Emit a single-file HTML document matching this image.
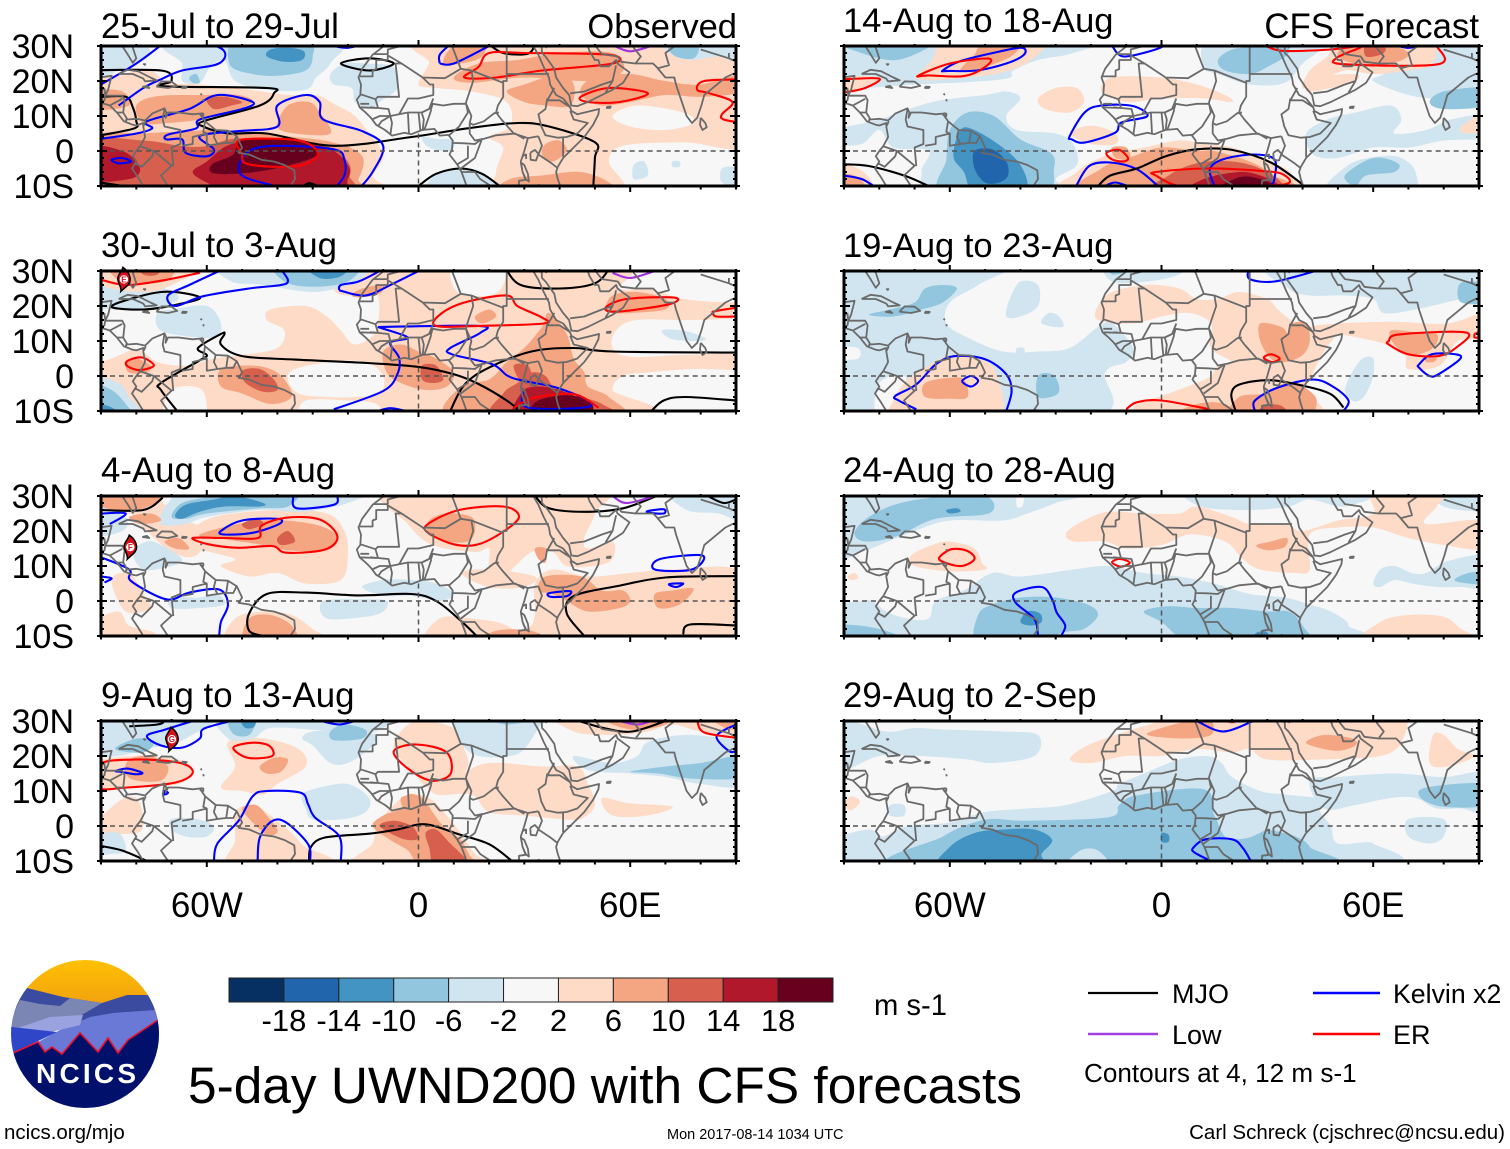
<!DOCTYPE html>
<html lang="en">
<head>
<meta charset="utf-8">
<title>5-day UWND200 with CFS forecasts</title>
<style>
html,body{margin:0;padding:0;background:#fff}
svg{display:block}
text{font-family:"Liberation Sans",Arial,sans-serif;fill:#000}
</style>
</head>
<body>
<svg id="chart" xmlns="http://www.w3.org/2000/svg" width="1510" height="1149" viewBox="0 0 1510 1149">
  <rect x="0" y="0" width="1510" height="1149" fill="#fff"/>
  <g id="panels"></g>

  <text x="101" y="38" font-size="34.8">25-Jul to 29-Jul</text>
  <text x="737" y="38" font-size="34.5" text-anchor="end">Observed</text>
  <text x="101" y="257" font-size="34.8">30-Jul to 3-Aug</text>
  <text x="101" y="482" font-size="34.8">4-Aug to 8-Aug</text>
  <text x="101" y="707" font-size="34.8">9-Aug to 13-Aug</text>
  <text x="843" y="32" font-size="34.5">14-Aug to 18-Aug</text>
  <text x="1479" y="38" font-size="34.8" text-anchor="end">CFS Forecast</text>
  <text x="843" y="257" font-size="34.5">19-Aug to 23-Aug</text>
  <text x="843" y="482" font-size="34.8">24-Aug to 28-Aug</text>
  <text x="843" y="707" font-size="34.8">29-Aug to 2-Sep</text>

  <g id="colorbar"></g>
  <text x="874" y="1015" font-size="29.2">m s-1</text>
  <text x="188" y="1103" font-size="51.4">5-day UWND200 with CFS forecasts</text>

  <g>
    <line x1="1088" y1="993" x2="1158" y2="993" stroke="#000" stroke-width="2.2"/>
    <text x="1172" y="1003" font-size="27">MJO</text>
    <line x1="1088" y1="1034" x2="1158" y2="1034" stroke="#a040e0" stroke-width="2.4"/>
    <text x="1172" y="1044" font-size="27">Low</text>
    <line x1="1313" y1="993" x2="1380" y2="993" stroke="#0000ff" stroke-width="2.4"/>
    <text x="1393" y="1003" font-size="26.7">Kelvin x2</text>
    <line x1="1313" y1="1034" x2="1380" y2="1034" stroke="#ff0000" stroke-width="2.4"/>
    <text x="1393" y="1044" font-size="27">ER</text>
    <text x="1084" y="1082" font-size="26.1">Contours at 4, 12 m s-1</text>
  </g>

  <g>
    <defs>
      <clipPath id="logoClip"><ellipse cx="85" cy="1034" rx="74" ry="74"/></clipPath>
      <linearGradient id="skyGrad" x1="0" y1="0" x2="0" y2="1"><stop offset="0" stop-color="#ffc400"/><stop offset="1" stop-color="#f2a010"/></linearGradient>
    </defs>
    <g clip-path="url(#logoClip)">
      <rect x="5" y="955" width="160" height="52" fill="url(#skyGrad)"/>
      <polygon points="5,1010 27,988 43,992 63,997 102,1003 127,995 148,995 165,1020 85,1030" fill="#3a4ba0"/>
      <polygon points="5,1030 20,1000 40,1004 60,1006 70,998 102,1003 80,1016 45,1030" fill="#7b86b4"/>
      <polygon points="5,1060 60,1030 90,1017 113,1013 155,1010 165,1020 165,1060" fill="#6a78d6"/>
      <polygon points="18,1028 50,1017 83,1015 80,1025 47,1033" fill="#9aa3e0"/>
      <polygon points="5,1026 12,1027 57,1032 15,1052 5,1055" fill="#3046c8"/>
      <polygon points="5,1056 13,1053 38,1042 45,1052 52,1047 62,1054 80,1033 98,1052 108,1038 118,1053 128,1040 158,1020 165,1016 165,1115 5,1115" fill="#00106b"/>
      <polyline points="5,1056 13,1053 38,1042 45,1052 52,1047 62,1054 80,1033 98,1052 108,1038 118,1053 128,1040 158,1020 165,1016" fill="none" stroke="#e8102a" stroke-width="1.6"/>
    </g>
    <text x="36" y="1083" font-size="28" font-weight="bold" style="fill:#fff" textLength="100" lengthAdjust="spacing">NCICS</text>
  </g>

  <text x="4" y="1139" font-size="20.5">ncics.org/mjo</text>
  <text x="667" y="1139" font-size="14.5">Mon 2017-08-14 1034 UTC</text>
  <text x="1505" y="1139" font-size="20.5" text-anchor="end">Carl Schreck (cjschrec@ncsu.edu)</text>
</svg>

<script>
/* ---------- axis and colour data ---------- */
const lonTicks = [-60, 0, 60];
const lonTickLabels = ['60W', '0', '60E'];
const latTicks = [30, 20, 10, 0, -10];
const latTickLabels = ['30N', '20N', '10N', '0', '10S'];
const colorBounds = [-18, -14, -10, -6, -2, 2, 6, 10, 14, 18];
const colorBarLabels = ['-18', '-14', '-10', '-6', '-2', '2', '6', '10', '14', '18'];
const palette = ['#053061', '#2166ac', '#4393c3', '#92c5de', '#d1e5f0', '#f7f7f7', '#fddbc7', '#f4a582', '#d6604d', '#b2182b', '#67001f'];

/* storm markers: panel index, lon, lat, letter */
const storms = [[1, -83.5, 27.6, 'E'], [2, -81.7, 15.4, 'F'], [3, -69.9, 24.8, 'G']];

/* ---------- filled anomaly regions: [m/s value, [lon,lat,...]] ---------- */
const p1Fills = [
 [4,[-95,18,-84,22,-76,23,-71,19.5,-62,19,-48,17.5,-37,16,-29,16,-24,13.5,-18,10,-14,5,-11,1,-10,-2,-13,-7,-16,-12,-95,-12]],
 [4,[0,19,3,25,5,32,96,32,96,2.5,75,2.5,58,1.5,54,-3,57,-12,24,-12,22,-6,24,1,20,4,26,7,25,14,15,17,5,18]],
 [0,[55,10,62,13,75,11,78,8,70,6,60,7]],
 [-4,[-95,32,-80,32,-76,28,-80,25,-85,23,-90,21,-95,22]],
 [-4,[-70,31,-67,25,-67,20,-62,19.5,-59,24,-55,26,-52,20,-43,17.5,-32,17.5,-29,21,-25,25,-24,32]],
 [-8,[-54,29,-53,24,-47,22,-40,21.5,-32,23,-30,27,-32,31,-53,31]],
 [-8,[-65,21,-63,22,-62,19.5,-64,19.5]],
 [-12,[-43,27,-38,25.5,-33,26,-32.5,28.5,-37,29.5,-42,29]],
 [-4,[-25,22,-21,25,-15,25,-7,24,-6,18,-11,14,-14,12,-18,14,-19,18,-24,19]],
 [-4,[70,32,71,28,77,26,85,27,92,25,92,32]],
 [-8,[71,30,73,27,78,26.5,79,30]],
 [-4,[3,-11,6,-6,12,-5,18,-6,21,-11]],
 [-4,[1,4,5,3.5,10,3,9,0,3,1]],
 [-4,[61,-4,64,-3,65,-7,61,-8]],
 [-4,[72,-3,74,-3,74,-4.5,72,-4.5]],
 [-4,[86,-5,90,-5,91,-10,86,-9]],
 [8,[-92,3.8,-78,5,-65,5.7,-55,6,-38,4.3,-24,2.4,-16,-1.4,-17,-8,-21,-12,-92,-12]],
 [8,[-80,13,-74,15.7,-60,16,-51,16,-47,14,-54,11,-62,9,-71,8,-78,8]],
 [8,[-91,17,-84,17,-82,13,-91,12]],
 [8,[-37,13,-31,14,-28,11,-25,5,-35,5,-40,7]],
 [8,[7,25,10,30,19,32,18,27,12,25]],
 [8,[10,21,17,25,28,26,40,28,55,28,58,23,50,20,30,21,15,19.5]],
 [8,[25,17,30,19,40,22,44,19,43,13,36,13,30,14]],
 [8,[46,18,50,21,60,22,70,20,80,19,92,22,92,17,80,15.5,70,16,60,14,52,13,47,15]],
 [8,[24,-12,26,-8,35,-7,46,-6,54,-9,54,-12]],
 [8,[36,2,40,3,42,0,38,-3,35,-1]],
 [12,[-60,15,-55,15.5,-50,14,-53,13,-58,12]],
 [12,[-92,2.4,-78,3,-67,1.4,-60,1.4,-52,3.5,-38,3,-25,1,-20,-3,-19.5,-7,-23,-12,-78,-12,-76,-9,-70,-7,-74,-10,-92,-12]],
 [16,[-92,1,-84,0,-80,-3,-79,-6,-82,-8,-92,-8]],
 [16,[-64,-6,-60,-3,-53,2,-40,3,-26,1,-20,-4,-20,-8,-24,-12,-52,-12,-60,-9]],
 [20,[-58.5,-3.8,-52.5,-1,-50,3.3,-37.5,3.3,-30.7,1.4,-29,-1.4,-37.5,-4.3,-48,-6.2,-58,-6.4]]
];
const p2Fills = [
 [4,[-92,-3,-88,7,-80,8,-74,4,-66,3,-58,5,-50,6,-40,8,-38,13,-43,16,-42,19,-32,20,-26,17,-22,13,-18,9,-12,13,-12,24,-20,23,-24,25,-20,32,55,32,57,25,65,25,75,22,88,21,92,21,92,17,78,16,62,16,56,13,55,8,60,5.5,75,6,92,6,92,2,78,2,65,1,58,0,55,-4,58,-12,-92,-12]],
 [0,[-35,2,-25,4,-15,4,-10,0,-11,-5,-18,-6,-26,-6,-34,-5,-37,-1]],
 [0,[-70,-4,-62,-3.5,-60,-9,-62,-12,-72,-12]],
 [0,[-32,-7,-20,-7,-12,-8,-12,-12,-32,-12]],
 [0,[10,32,11,24,20,23,24,26,24,32]],
 [0,[-91,4,-72,12,-58,18,-48,18,-42,12,-46,7,-58,6,-72,6,-84,9,-92,13]],
 [-4,[-91,20,-91,26,-80,25,-72,25,-68,22,-76,19,-85,19]],
 [-4,[-74,18,-70,19,-60,20,-56,15,-58,11,-70,12,-74,14]],
 [-4,[-55,32,-53,27,-44,26,-30,24,-20,26,-15,29,-15,32]],
 [-8,[-40,32,-38,27,-30,25.5,-20,27,-18,32]],
 [-12,[-32,32,-28,28,-22,28.5,-20,32]],
 [-4,[-92,-1,-85,-2,-82,-6,-78,-12,-92,-12]],
 [-8,[-92,-3,-87,-4,-83,-8,-81,-12,-92,-12]],
 [-12,[-92,-8,-87,-9,-84,-12,-92,-12]],
 [-4,[69,13,75,13,81,11,80,10,72,10.5]],
 [4,[-92,32,-90,26,-78,24,-70,26,-62,32]],
 [8,[-87,32,-84,27,-72,27,-70,32]],
 [12,[-80,32,-78,29,-74,29,-73,32]],
 [8,[-56,2,-48,3,-42,2,-38,-1,-36,-6,-42,-8,-50,-5,-56,-3]],
 [12,[-50,1.5,-45,2,-41,-1,-40,-4,-44,-4.5,-49,-2]],
 [8,[-83,4,-80,5,-76,3,-77,1,-82,1]],
 [8,[-19,23,-16,25,-10,26,-11,23.5,-16,22.5]],
 [8,[-10,7,-5,9,0,7,5,5,10,1,8,-3,2,-4,-5,-2,-9,1]],
 [12,[1,3,5,3,7,-1,4,-2,1,-1]],
 [8,[10,-12,12,-3,20,-1,25,4,30,8,35,14,37,18,42,12,44,5,47,1,48,-3,54,-6,56,-12]],
 [12,[22,-12,24,-5,28,-2,32,1,36,0,39,-4,46,-6,52,-8,55,-12]],
 [12,[27,3,31,3,32,-1,29,-1.5]],
 [16,[28,-12,29,-5,33,-3,40,-4,46,-7,50,-12]],
 [20,[32,-10.5,34,-7,42,-5.5,48,-7,49,-10,40,-11]],
 [8,[53,19,55,23,62,24,70,22,70,19,60,18,55,18]],
 [8,[16,17,20,19,22,17,18,15]]
];
const p3Fills = [
 [4,[-92,32,-92,25,-82,25,-78,21,-70,14,-63,13,-60,20,-68,24,-78,32]],
 [4,[-65,19,-58,24,-40,26,-26,25,-21,20,-20,13,-22,6,-32,5,-40,8,-48,7,-56,10,-52,12,-62,15]],
 [4,[-8,32,-3,22,4,16,16,14,20,15,20,8,24,7,32,14,38,14,42,10,50,10,55,12,55,17,48,15,47,18,50,25,50,32]],
 [4,[33,5,38,9,48,7,60,8,72,9,92,8,92,-12,20,-12,18,-8,30,-8,33,-4]],
 [4,[-53,-12,-52,-5,-44,-3,-36,-4,-30,-8,-26,-12]],
 [4,[-92,-6,-85,-3,-82,-7,-75,-9,-75,-12,-92,-12]],
 [4,[-87,6,-82,8,-78,2,-76,-2,-83,-3]],
 [4,[3,-12,6,-5,15,-5,25,-7,28,-12]],
 [4,[12,8,20,9,33,7,30,4,20,4]],
 [-4,[-73,22,-71,28,-62,32,-16,32,-20,28,-33,25.5,-45,26,-60,24,-66,22]],
 [-8,[-70,24,-67,28,-58,30,-50,32,-34,32,-37,27,-45,26.5,-60,25,-66,23.5]],
 [-12,[-69,24.5,-66,27.5,-58,29,-52,30,-44,28,-45,27,-55,27,-62,25.5,-67,23.5]],
 [-4,[-81,14,-77,17,-73,16,-67,12,-70,10,-78,9]],
 [-4,[-92,27,-83,24,-84,20,-92,19]],
 [-4,[-70,1,-62,1,-57,2,-55,-1,-62,-2,-70,-2]],
 [-4,[-27,0,-15,0.5,-9,0,-10,-3,-15,-4.5,-26,-5]],
 [-4,[-16,4,-10,6,-2,6,5,5,10,2,6,0,-2,1.5,-10,1.5]],
 [-4,[71,32,76,26,85,25,92,23,92,32]],
 [8,[-62,19,-45,23,-30,22,-23,18.5,-26,14.5,-37,14.5,-44,16,-54,17.5]],
 [12,[-40,18,-37,20,-35,17,-39,16]],
 [12,[-50,22,-46,23.5,-44,22,-48,20.5]],
 [8,[-72,17,-68,18,-65,15,-69,15]],
 [8,[3,23,8,25,15,24,16,20,14,17,8,17,3,19]],
 [8,[18,-12,22,-8.5,32,-8.5,36,-12]],
 [8,[-49,-12,-48,-5,-42,-4,-36,-7,-35,-12]],
 [8,[34,3,36,7,46,7,52,3,58,3,60,0,57,-2,48,-3,42,0,38,2]],
 [8,[67,2,72,3,78,3.5,74,-1,68,-2]],
 [8,[33,15,36,15,36,11,34,12]],
 [8,[-92,32,-90,27,-80,26,-73,29,-72,32]],
 [8,[-82,24,-76,25,-73,23,-79,22]]
];
const p4Fills = [
 [4,[-54,24,-44,25,-34,22,-32,17,-40,12,-44,9,-50,10,-56,11,-52,17]],
 [4,[-92,18,-80,20,-68,19,-64,16,-68,12,-80,11,-92,11]],
 [4,[-5,27,0,30,10,28,13,22,14,17,10,13,3,11,-2,16,-7,22]],
 [4,[3,13,12,15,20,18,35,17,45,17,48,12,50,6,46,2,40,2,30,3,20,4,15,9,5,9]],
 [4,[-12,0,-8,5,-3,9,3,8,8,3,12,-2,16,-8,20,-12,-18,-12,-13,-5]],
 [4,[-52,4,-47,6,-42,3,-36,-2,-32,-6,-25,-9,-24,-12,-53,-12,-52,-4]],
 [4,[42,32,44,27,55,26,65,27,72,29,80,27,92,26,92,32]],
 [4,[52,8,60,6.5,72,5.5,65,3,55,3]],
 [4,[-92,-1,-85,7,-80,8,-78,2,-80,-2]],
 [-4,[-92,32,-92,21,-85,20,-78,22,-72,23,-66,25,-58,32]],
 [-4,[-33,25,-30,27,-20,27,-12,26,-14,22,-20,18,-25,18,-30,23]],
 [-4,[-54,32,-54,25,-47,25,-42,28,-30,27.5,-20,26.5,-12,27,-10,32]],
 [-8,[-54,29,-52,26,-48,26,-46,30,-47,32,-53,32]],
 [-12,[-50,30,-49,28,-46.5,28.5,-46,32]],
 [-8,[-25,27,-21,29,-15,27.5,-16,25,-24,24.5]],
 [-4,[-33,9,-28,11,-20,12,-14,8,-15,4,-21,2,-30,2,-32,5]],
 [-4,[-92,-3,-85,-2,-83,-7,-87,-8,-92,-8]],
 [-4,[-70,2,-63,2,-58,0,-60,-3,-66,-3,-70,-1]],
 [-4,[12,32,12,24,17,20,26,20,30,22,34,28,36,32]],
 [-8,[20,30.5,25,29,30,30]],
 [-4,[44,20,55,18,62,20,65,24,75,26,88,25,92,25,92,12,80,12,70,14,60,15,48,16]],
 [-8,[60,15.5,70,17,80,18,92,20,92,14,78,13.5,68,15]],
 [-8,[-86,22,-80,25,-75,24,-78,21]],
 [8,[-82,19,-76,20,-71,17,-73,13,-80,13,-83,15]],
 [8,[-45,17,-41,19.5,-37,19,-39,15.5,-43,15]],
 [8,[-50,5,-46,6,-43,3,-40,-1,-41,-2.5,-43,-2.5,-47,1]],
 [8,[-13,0,-10,3,-5,5,-3,9,1,8,4,4,7,0,12,-4,15,-9,19,-12,2,-12,-3,-7,-8,-4]],
 [8,[-5,8,-2,8.5,1,6,0,4,-4,5]],
 [12,[-11,0,-7,1.5,-2,0,0,-3,-1,-4,-5,-3.5]],
 [12,[2,-2,5,-1,9,-5,13,-9,14,-12,5,-12,3,-6]],
 [8,[52,32,55,29,62,27.5,70,29,71,32]],
 [8,[82,32,87,28,92,28,92,32]]
];
const r1Fills = [
 [-4,[-92,32,-92,19,-70,19,-45,20.5,-42,23,-35,26,-25,28,-20,32]],
 [-4,[-92,6,-80,9,-65,14,-50,16,-44,17,-40,15,-44,10,-41,6,-30,5,-25,2,-24,-4,-30,-8,-28,-12,-64,-12,-68,-6,-66,0,-76,1,-80,6,-85,2,-92,2]],
 [-4,[15,32,12,24,16,22,25,19,35,19.5,40,25,44,28,48,32]],
 [-8,[16,26,20,29,27,30,34,32,36,28,30,24,25,22,18,23]],
 [-4,[72,32,69,26,63,22,60,20,70,16,80,15,92,17,92,32]],
 [-8,[76,14,80,17,92,18,92,13,80,12]],
 [-4,[41,5,47,9,55,11,65,13,68,9,66,5,75,6,82,9,92,10,92,4,80,3,70,1,60,1,50,-2,43,-1]],
 [-4,[47,-12,53,-4,62,-1.5,68,-2,72,-6,70,-12]],
 [-8,[52,-7,60,-2,67,-3.5,66,-6,58,-7,55,-10]],
 [-8,[-92,32,-85,28,-75,26,-65,30,-62,32]],
 [-8,[-61,32,-59,28.5,-50,28.5,-48,32]],
 [-12,[-60,32,-58,29.5,-51,29.5,-50,32]],
 [-8,[-60,6,-55,11,-47.5,10,-40,3.3,-31.5,-0.5,-30.5,-5,-34,-12,-62,-12,-61,-2.5]],
 [-12,[-57,6,-53,6,-45,1,-40,-4,-38,-10,-42,-12,-53,-12,-56,-6,-59,-1.5]],
 [-16,[-53,0,-48,0.5,-44,-3,-43.5,-7,-46,-9,-50,-9,-53,-5]],
 [4,[-69,20.5,-55,21,-45,22.5,-37,26,-34,32,-60,32,-65,26]],
 [8,[-57,23,-50,24,-42,27.5,-40,32,-50,32,-53,27.5]],
 [4,[-92,21,-80,21,-82,19,-92,16]],
 [4,[-35,15,-30,18,-24,18,-22,14,-26,11,-33,12]],
 [4,[-17,17,-14,21,0,21,10,19,18,16,20,14,12,15,0,15,-10,14]],
 [4,[-26,5,-22,7,-18,7,-13,5,-13,2,-20,2]],
 [4,[-25,-12,-24,-6,-15,-1,-5,1,5,3,12,2,20,1,28,-2,35,-5,40,-10,41,-12]],
 [8,[-21,-12,-17,-5,-8,-1.5,0,1,10,0,15,0,25,-3,32,-7,37,-12]],
 [8,[-14,1,-10,1,-9,-2,-13,-2]],
 [12,[-2,-12,2,-7,10,-3.5,20,-3,28,-5,34,-9,34,-12]],
 [16,[8,-12,12,-8,22,-6,28,-7,33,-9.5,33,-12]],
 [20,[15,-12,22,-7.5,28,-8,32,-10,32,-12]],
 [4,[40,18,42,23,47,27,52,32,75,32,77,25,70,23,60,22,52,23,45,20]],
 [8,[50,27,52,30,60,32,70,28,65,25,55,25]],
 [12,[58,31,63,31,63,28,58,27]],
 [4,[41,17,45,21,55,22,55,20,48,18]],
 [4,[85,7,92,11,92,6,86,5]],
 [4,[-92,-4,-86,-5,-82,-9,-84,-12,-92,-12]],
 [8,[-92,-7,-87,-7,-84,-10,-86,-12,-92,-12]]
];
const r2Fills = [
 [-4,[-92,32,-45,32,-52,26,-60,21,-61,15,-55,11,-45,7,-35,7,-26,8,-18,14,-14,15,-8,8,-10,4,-16,1,-20,-12,-92,-12]],
 [0,[-92,8,-86,8,-86,5,-92,5]],
 [0,[-80,-2,-73,0,-72,-6,-75,-12,-81,-12]],
 [-4,[-44,17,-40,17,-35,20,-35,26,-40,27,-43,22]],
 [-4,[-34,15,-32,18,-29,17,-28,14]],
 [-4,[-41,8,-39,8,-39,6.5,-41,6.5]],
 [-4,[-15,32,-14,27,-4,27,5,29,5,32]],
 [-8,[-15,32,-14,29,-10,30,-9,32]],
 [-4,[33,32,36,25,42,23,52,23,60,22,63,18,72,19,85,22,92,23,92,32]],
 [-8,[84,25,86,27,92,26,92,21,85,21]],
 [-4,[54,-7,52,-4,54,1,57,5,60,5,60,0,58,-5,56,-7]],
 [-8,[-83,17.5,-77,19,-70,21,-67,25,-62,26,-58,25,-62,21,-68,19,-76,17]],
 [-8,[-35,0,-31,0.5,-29,-3,-30,-5.5,-35,-6]],
 [-8,[-92,-9,-85,-12,-92,-12]],
 [4,[-76,-7,-72,-1,-66,3,-60,6,-52,5,-47,1,-47,-12,-75,-12]],
 [8,[-67,-2,-60,-0.5,-56,-1,-55,-6,-60,-6.5,-67,-6]],
 [4,[-18,20,-14,24,-4,26,5,25,10,22,16,22,22,24,30,22,33,19,38,15,44,12,50,13,46,7,43,1,41,-4,44,-12,2,-12,-8,-9,2,-5,10,-2,14,0,16,3,20,4,14,8,14,15,8,18,0,17,-8,15,-18,16]],
 [4,[42,14,50,15,66,15.5,81,15,92,18,92,11,84,10,79,3,70,2,69,6,64,9,50,12,42,12]],
 [8,[28,15,34,14,36,12,37,15,41,15,42,10,40,6,35,4,31,5,28,10]],
 [8,[65,13,72,12.5,78,12,77,8,71,6,66,9]],
 [8,[75,5,78,5,77,4,75,4]],
 [8,[20,-12,22,-6,30,-5,35,-2,40,-3,44,-7,40,-12]],
 [8,[3,-12,10,-8,18,-8,20,-12]],
 [12,[27,-12,29,-8.5,34,-8.5,36,-12]]
];
const r3Fills = [
 [-4,[-92,32,-92,13,-85,14,-70,20,-60,23,-45,23,-38,25,-30,28,-20,32]],
 [0,[-41,30,-39,30,-39.5,27,-41,27]],
 [-8,[-87,19.5,-83,24,-74,28,-60,30,-49,29.5,-49,25,-64,23.5,-75,18.5,-84,17]],
 [-12,[-61,26,-58,26.5,-57,25.5,-60,25]],
 [-4,[10,32,11,27,25,26,36,27,42,29,52,27,60,32]],
 [-4,[78,32,80,27,92,26,92,32]],
 [-4,[-92,-2,-85,0,-82,0,-78,-3,-72,-5,-66,-5,-64,0,-56,3,-48,8,-40,7,-25,9,-15,10,-5,8,5,7,15,5,25,2,35,1,42,-1,48,-3,53,-7,48,-12,-92,-12]],
 [-4,[60,5,62,9,66,10,71,8,75,8,80,11,88,13,92,13,92,4,85,4,78,4,71,5,66,6,62,4]],
 [-8,[83,6,87,8,92,8,92,5,87,5]],
 [-8,[-52,-12,-52,-4,-48,-1,-40,1,-30,1,-21,-1,-18,-4,-22,-8,-28,-9,-36,-12]],
 [-8,[-5,-3,2,-1.5,10,-2,20,-2,30,-3,36,-3,40,-7,40,-12,10,-12,0,-6]],
 [-8,[-92,-7,-80,-8,-72,-12,-92,-12]],
 [-12,[-40,-6,-38,-3,-34.5,-3.5,-34,-6,-37,-7]],
 [-12,[25,-12,27,-9,30,-9,30,-12]],
 [4,[-27,19.5,-22,23,-15,25.5,-5,25,5,25,10,27,20,24,25,22,35,22,40,20,50,23,60,25,60,32,80,32,78,27,75,22,92,23,92,15,80,16,70,18,60,21,50,21,42,19,42,9,38,8,28,9,23,12,18,17,8,19,0,16,-10,15,-16,17,-25,17]],
 [4,[-71,13,-65,16,-60,17,-53,15,-51,11,-50,9,-60,8.5,-70,10]],
 [4,[58,-12,62,-6,70,-4,80,-4.5,85,-8,89,-10,92,-12]],
 [4,[-89,7,-87,8,-86,6.5,-88,6]],
 [8,[27,16,31,17,35.5,18,35,15.5,31,14.5,28,15]]
];
const r4Fills = [
 [-4,[-92,30,-92,16,-80,20,-68,20,-55,19,-48,18,-36,20,-35,26,-45,27,-60,27.5,-70,28,-78,27]],
 [-4,[-92,-4,-83,-1,-79,-3,-72,0,-60,1,-50,4,-38,5,-27,6,-14,10,-12,12,-5,15,5,19,13,20,17,18,20,14,28,10,35,9,45,8,52,7,45,5,48,0,50,-5,60,-5,56,-12,-92,-12]],
 [-4,[42,13,50,14,66,15,80,14,92,15,92,4,85,5,78,5,72,8,65,8,55,6,46,5]],
 [-4,[70,2,80,2,80,-3,76,-5,70,-3]],
 [-4,[-77,6,-73,6,-73,3,-77,3]],
 [-8,[-72,-12,-62,-3,-50,1.8,-38,1.5,-15,2.5,-12,6,-7,8.7,12,10.5,15,3,19,-2.5,24,-0.5,30,-1,38,-3,42,-6,42.5,-12]],
 [-4,[-27,-12,-23,-7,-18,-7,-15,-12]],
 [-4,[16,4,24,4.8,33,4,34,0,30,-1,24,-3.5,18,-3]],
 [-8,[73.5,8,75,11,92,12,92,6,80,5.5]],
 [-12,[-62,-12,-60,-6,-53,-2,-45,-1,-36,-1,-31,-4,-34,-8,-35,-12]],
 [-12,[0,-2,2,-2.5,2,-4.5,0,-4.5]],
 [4,[-26,19,-21,23,-10,27,0,30,8,32,20,32,30,32,48,32,68,32,68,24,62,20,45,19,30,19,25,22,20,21,10,22,0,20,-10,20,-20,18]],
 [4,[77,26,76,18,81,17,89,20,84,22,80,26]],
 [4,[-90,6,-88,8.5,-85.5,7,-88,4.5]],
 [8,[-4,26,0,28,8,30,14,30,14,26,6,25]],
 [8,[41,24,46,26,54,25,55,23,50,21.5,44,22.5]],
 [12,[17,31,19,29.5,21,29.5,22,31]],
 [-4,[-8,31,-2,32,-14,32]]
];

/* ---------- contours: [wave type, closed 0/1, [lon,lat,...]] ---------- */
const p1Contours = [
 ['mjo',1,[-22,25,-14,26.5,-7,25,-14,23]],
 ['mjo',0,[20,30.5,24,28,31,27.8,33,30.5]],
 ['mjo',0,[-95,23,-73,23,-70,20,-72,18.5,-43,18,-41,16.5,-45,13,-61,8.5,-61,7,-54,5,-43,5,-24,1.5,-2,4,14,6.5,28,8,37,7,50,2.5,50,-2,49.5,-11]],
 ['mjo',0,[-90,15.5,-83,15.5,-81,12.5,-80,8.5,-80.5,6.5,-90,4.5]],
 ['mjo',0,[-90,-9,-82,-10.3]],
 ['mjo',0,[-33,-10.3,-31,-9.2,-28,-10.3]],
 ['mjo',0,[0,-10,5,-6.5,12,-5,18,-6.5,23,-10]],
 ['kelvin',0,[-90,19,-80,25,-72,31]],
 ['kelvin',0,[-85,13,-78,18,-73,20.5,-67,23,-58,24.5,-55,26.5,-55.5,29,-60,31]],
 ['kelvin',0,[-90,3.5,-80,5,-75.5,6.5,-77,8.5,-65,12,-57,16,-47,14,-50,12,-62,9,-63,6.5,-71,4.7,-71.5,3.3,-67,3.3,-66,-0.5,-60,-1.5,-58,0.5,-62,4.3,-51,5.7,-40,7,-40,13,-32,16,-28,14,-27,9,-16,5.7,-10,1.4,-13,-6,-17,-11]],
 ['kelvin',1,[-87,-2.5,-84,-2,-81.5,-3,-85,-3.5]],
 ['kelvin',0,[-36,-11,-48,-8,-51,-5,-48,0,-40,1.5,-24,0.5,-21,-2.5,-21,-7,-24,-11]],
 ['kelvin',0,[-24,30,-20,29.5,-14,31]],
 ['kelvin',0,[6,25,6,27.5,9,30.5]],
 ['kelvin',0,[6,25,10,25,20,30]],
 ['er',1,[-51,3,-40,3.5,-32,2.5,-28.5,-1,-33,-4,-41,-4.5,-49,-3.5,-50,-1]],
 ['er',1,[13,21,17,24,20,28,30,28,54,27.5,55,25,35,23,22,21]],
 ['er',1,[46,15.5,54,18,65,16.5,57,14,48,14]],
 ['er',0,[92,20.5,81,20,79,17.5,82.5,16.5,89,14,86,10.5,86.5,9,92,8]],
 ['er',0,[-70,30,-60,30]],
 ['low',0,[55.5,30,60,28.5,66,30]]
];
const p2Contours = [
 ['mjo',1,[-87,20,-73,24,-62,22.5,-68,20.5,-78,19]],
 ['mjo',0,[24.5,31,29,26,40,25,50,26.5,54,30.5]],
 ['mjo',0,[-68,-10.5,-73,-4,-73,-2,-62,4.5,-60,6,-62.5,8,-56,12,-55,12,-56,9,-50,5.7,-35,4.7,-16,3.8,0,2.6,10,0.5,17,-2.3,25,-7,30,-11]],
 ['mjo',0,[9,-10,13,-2.5,20,2.4,32,7,44,8,55,7,90,6.7]],
 ['mjo',0,[66,-10,69.5,-7,75.5,-6,90,-7]],
 ['kelvin',0,[-56.5,30,-65,26,-71,23,-69,20,-61,22.8,-48,25,-39,26,-37,27.3,-39,30.5]],
 ['kelvin',0,[-22.5,24.5,-22,26,-17,27,-11,30]],
 ['kelvin',0,[-22.5,24.5,-15,23,-7,26.5,0,30]],
 ['kelvin',0,[-11.5,14,17,14.3,17.5,12.3,9,8,9.5,6.2,21,3.3,26.5,-0.5,39,-3.3,48,-7,47,-9,31,-9,29.5,-4.5]],
 ['kelvin',0,[-11.5,14,-3,11,-8,9.5,-5.5,5.2,-6,0.5,-10,-4.3,-24,-9.5]],
 ['kelvin',0,[-11.5,-10,-8,-9.2,-3.5,-10]],
 ['er',1,[-82.5,4.3,-78.5,5.3,-75,3,-79,1.7,-82.5,2.8]],
 ['er',0,[-90,27.5,-82.5,26,-71.5,27.5,-62,29.5]],
 ['er',1,[6,17.5,13,21,25,23,28,20,35,16.7,35.5,15,17,14.3,5,14.3]],
 ['er',1,[53,19.5,59,22,72.5,22.4,71,20.5,56.5,18.4]],
 ['er',0,[90,19.5,84,18.5,83.5,18,84.5,17,90,17]],
 ['er',0,[27,-9,33,-6.2,44,-5.2,51,-9]],
 ['low',0,[55,29.5,60,28,67,30]]
];
const p3Contours = [
 ['mjo',0,[-90,26,-78,26,-72.5,29.5]],
 ['mjo',0,[33,30,37,26.5,47,25.5,58,26.5,67.5,30]],
 ['mjo',0,[82,30,86.5,28,90,29]],
 ['mjo',0,[-44,-10,-48,-8.5,-48,-3.5,-43,2,-32,2.4,-17,1.6,-2,2,5,0,11.5,-5.2,16.5,-10]],
 ['mjo',0,[47,-10,42,-3.5,44,1.4,56.5,4.3,70,6.7,90,7.1]],
 ['mjo',0,[75,-9.5,77,-6.7,90,-7]],
 ['kelvin',0,[-90,12.5,-82,9,-81.5,5.7,-71.5,0.5,-65,2.4,-56.5,3.3,-54,-1,-56,-6,-56.5,-10]],
 ['kelvin',0,[-90,7,-87,6.5,-89,5.3]],
 ['kelvin',0,[-90,25,-83,25,-87.5,22]],
 ['kelvin',0,[-35.5,30,-34.5,26.5,-24,27.5,-23,30]],
 ['kelvin',1,[-56,20,-50,23,-40,23.5,-39.5,22,-47,19.5,-55,19]],
 ['kelvin',1,[65,25.7,69.5,26.2,69.5,25,65.5,25.2]],
 ['kelvin',1,[67,9,68.5,12,80.5,13,77.5,9]],
 ['kelvin',1,[71,4.8,75,5,73,4]],
 ['kelvin',1,[37,2.2,43,2.8,42,1.4,37.5,1.2]],
 ['er',1,[-64,18,-55,18,-45.5,18,-44.5,21.5,-37.5,23.8,-28,23.3,-23,18.5,-26.5,14.7,-37.5,13.8,-41.5,15.7,-51,15.2,-59.5,16.2]],
 ['er',1,[2.7,22,11.5,26,24,27,28.5,24.3,25,20.5,17,16.2,10,16.2,2.7,19.5]],
 ['low',0,[55,30,59,28,67,30]]
];
const p4Contours = [
 ['mjo',0,[-90,-5.7,-84,-7,-77,-10]],
 ['mjo',0,[-31,-10,-30.5,-6,-26.5,-3.3,-14,-2.2,-6,-1,2,0.5,11.5,-2.4,20,-5.2,26.5,-10]],
 ['mjo',0,[45.5,30,52.5,28,60.5,27,70,30]],
 ['mjo',0,[-82,30,-73,30,-74,29,-82,28.5]],
 ['kelvin',0,[-64,30,-72,27.5,-77,25.7,-73,23,-67,22.4,-62,25,-61,27.7,-54,29.8]],
 ['kelvin',0,[-27.5,30,-22.5,29,-18,30]],
 ['kelvin',1,[-85.8,15.7,-82.5,16.4,-78.3,15.2,-80.4,14.8,-84.4,15.5]],
 ['kelvin',0,[-58,-10,-57,-5,-51,1.5,-47,8.5,-43,10,-33.4,9.5,-31.3,6.2,-29.3,2.4,-22.5,-2.9,-22,-10]],
 ['kelvin',0,[-45.6,-10,-45,-3.3,-41.5,1.4,-37.5,1,-31.3,-5.2,-30.7,-10]],
 ['kelvin',0,[90,29,84.5,25.7,88,21.4,90,21.4]],
 ['kelvin',1,[-72,10,-71,9.5,-72,9]],
 ['er',1,[-90.5,17.6,-80,19,-67.5,18,-64,15.2,-69,12.4,-82.5,11,-91,11]],
 ['er',1,[-52.5,22.4,-47,23.8,-42.3,22.9,-41.5,20,-48.4,19.5]],
 ['er',1,[-7,21.4,-0.7,23.3,8,21,9,14.8,3.4,13,-3.4,16.7]],
 ['er',0,[79,30,81,26.7,90,25.2]],
 ['low',0,[57,30,62,29,66,30]]
];
const r1Contours = [
 ['kelvin',1,[-62,23,-57,25.7,-46,28.4,-39.5,29.5,-39,27.5,-44,25,-52.5,23,-60.5,22.9]],
 ['kelvin',0,[-14,30,-10.7,27,-2,28.9,1.5,30.5]],
 ['kelvin',1,[-26,4.3,-21.8,11,-17,13,-8.3,12.9,-4,10,-11.4,8.1,-13.2,5.2,-21.8,2.4,-25.4,3.3]],
 ['kelvin',0,[-24.2,-10,-20.5,-4.3,-14.4,-3.3,-7,-5.2,-1,-10]],
 ['kelvin',0,[-15.5,-9.7,-13,-9,-9.5,-10]],
 ['kelvin',0,[-90,-7,-85,-8,-81.6,-10]],
 ['kelvin',0,[15,-10,13.7,-5.2,17.4,-2.4,26,-1,32,-2.4,32,-8,31,-10]],
 ['kelvin',0,[67,30,70,29.5,73,30]],
 ['er',1,[-69,21.5,-60,25,-49,26.4,-50,24,-56,21.4,-66,21.6]],
 ['er',0,[-90,20.5,-80,20.7,-84,18,-90,16.7]],
 ['er',1,[-15.6,-0.5,-12,0.3,-9.5,-2,-10.8,-3,-14,-2.4]],
 ['er',1,[-1.6,-6,12.5,-5,28.4,-5.7,34.5,-6.7,35,-9.5,17,-10,5,-10,-1.6,-7]],
 ['er',0,[29.6,30,34.5,28.6,48,29,57,30,49.8,26.7,51.6,24.8,78.5,24.8,78,30]],
 ['mjo',0,[-90,-3.8,-83,-4.3,-73,-7,-66,-10]],
 ['mjo',0,[-18,-10,-14.5,-7,-7,-5,1.5,-1.4,10,0.5,20,0.3,31,-3.3,40,-9.5]]
];
const r2Contours = [
 ['kelvin',0,[-69.5,-9.5,-74.5,-7,-75.5,-5.7,-69.5,-2.4,-64,3.3,-58.5,5.7,-50,4.8,-44,0.5,-42.5,-4.3,-44,-10]],
 ['kelvin',1,[-56.5,-1.5,-54,0,-52,-1.4,-54,-3]],
 ['kelvin',0,[24.5,30,25.2,27.6,32,27,43.6,30]],
 ['kelvin',0,[26.5,-10,26.5,-7,33,-3.3,43,-1,49,-3.3,53,-7,51.6,-10]],
 ['kelvin',1,[73,3.3,76.6,6.2,83.4,6.2,84.6,4.8,78.5,0.5,76,0,73,2.4]],
 ['mjo',0,[21,-10,19.8,-5.2,22.2,-2.4,30.8,-1.2,40.6,-2.9,48,-5.2,51.6,-9]],
 ['er',0,[-10,-9.5,-7,-7.5,0,-7,13.7,-9.5]],
 ['er',1,[29,5.2,31,6.2,33.5,5,31.4,4]],
 ['er',1,[64.4,10,67.5,11.9,86.4,12.4,83.4,8,78.5,5.7,70,6.2,64.4,9]],
 ['er',0,[90,12.5,88.8,12,88.8,11,90,11]]
];
const r3Contours = [
 ['er',1,[-63,12.4,-59.5,14.8,-55,14.3,-53,12,-56.6,10,-61.5,11]],
 ['er',1,[-14,11,-12,12,-9,11,-11.4,9.8]],
 ['kelvin',0,[-35,-10,-36,-5.2,-41.3,-0.5,-41.3,2.4,-34,4,-31,0.5,-29.7,-3.3,-27.3,-7,-28.5,-10]]
];
const r4Contours = [
 ['kelvin',0,[10,30,17.5,27,26,30]],
 ['kelvin',0,[25.3,-10,23,-6.2,20,-3.8,12.5,-3.8,9,-6.2,9.4,-7.6,14,-10]]
];

/* ---------- base map, lon,lat polylines ---------- */
const coastlines = [
 [-6,36,-9.5,32,-9.8,30,-13,27.5,-16,23.5,-17,21,-16.3,19,-16.5,16,-17.5,14.7,-16.7,12.5,-15,11,-13.5,9.5,-12,7.5,-9.5,6,-7.5,4.4,-4,5.2,-2,4.8,1,6,4.5,6.3,6,4.4,8.5,4.6,9.7,3,9.5,0.5,8.8,-1,11,-3.9,12.2,-6,13.3,-9,13.8,-11,13.5,-13],
 [40.5,-13,40.5,-11,39.5,-8,39,-6,39.5,-4.5,41,-2,44,1,47,4,49.5,7.5,51,10.5,51.2,12,48,11.2,45,10.5,43.3,11.5,43,12.5,41,15,39,16,37.3,19,37,21,35.5,24,34,27.5,32.5,30,32.5,32],
 [34.9,30,35,28,36,27,38.5,23.5,39,21,41,18,42.7,16,43.3,13,45,12.8,48,14,52,16,55,17.5,58,19.5,59.8,22.5,58,23.8,56.4,25,56,26,54,24.2,51.5,24.2,51,26,50,26,48.5,28.5,48,30,50,30.2,52,27.7,56.5,27,57.5,25.5,61.5,25,66.5,25,67.5,24,70,21,72.5,21,73,19,74.5,14.5,76,10,77.5,8,79,9.5,80.2,13,81,16,84,18.5,87,21,89,22,91,22.5,92,21],
 [80,9.5,81.3,8,81.7,6.8,80.5,6,79.8,7.5,80,9.5],
 [-97,16,-92,14.5,-90,13.8,-87.5,13,-85.5,11,-83.5,8.5,-81,7.5,-80,7.3,-78,8,-78,7,-77.5,4,-78.8,1.5,-80,0,-81,-1.5,-80,-3,-81.2,-5,-79.5,-7.5,-78,-10,-76.5,-13],
 [-97.8,22,-97.5,19,-94,18,-91,18.5,-90.5,21,-87,21.5,-88,17.5,-88.8,15.8,-84,15.8,-83.3,14.5,-83.7,11,-82.5,9,-80,9.2,-77.5,8.7,-75.5,10.7,-72,12.2,-71.5,11,-71.7,9.5,-71,11,-68,11,-64,10.5,-62,10.7,-60.5,8.5,-57.5,6,-54,5.8,-51.5,4.2,-50,1,-51,-0.5,-48,-1,-44.5,-2.5,-41,-3,-38,-4,-35.2,-5.5,-35,-8,-37,-11,-38,-13],
 [-90,29.3,-94,29.5,-97,28,-97.5,24,-97.8,22],
 [-87,30.5,-84,30,-82.7,28,-81,25.2,-80,26.5,-81.3,30.5],
 [-85,22,-82.5,23.2,-79.5,22.8,-76,21,-74.2,20.2,-77.5,19.9,-78,20.7,-81,22,-84,22,-85,22],
 [-74.3,18.4,-72.8,19.9,-70,19.8,-68.4,18.6,-71,18,-74.3,18.4],
 [-78.3,18.3,-76.3,18,-77,18.6,-78.3,18.3],
 [-67,18.4,-65.7,18.3,-66,18,-67,18,-67,18.4],
 [-78,25,-77.6,24.6,-77.3,25],
 [-61.8,16.4,-61.4,16],
 [-61,14.8,-60.9,14.2],
 [-61.8,10.8,-61,10.7,-61,10,-61.8,10.2,-61.8,10.8],
 [53.3,12.6,54.5,12.7,54.3,12.3,53.4,12.3,53.3,12.6],
 [31.7,-0.5,33,0.3,34,-0.8,33.3,-2.7,31.8,-2.5,31.7,-0.5],
 [29,-3.3,29.5,-6,30.3,-8,31.3,-8.7,31,-6.5,30,-4,29,-3.3],
 [34,-9.5,35,-11,35,-13,34,-12,34,-9.5]
];
const borders = [
 [-13,27.7,-8.7,27.7,-8.7,29,-5,30,-2,32],
 [-17,21.3,-13,21.3,-13,23,-12,23.4,-12,26,-8.7,26,-8.7,27.3,-4.8,25,-6.5,25,-5.5,15.5,-11.5,15.5,-12.2,14.8,-16.4,16.2],
 [-4.8,25,1.2,21,3.2,19,4.2,19,4.2,16,0,15,-3,15,-5.5,10.5],
 [1.2,21,7.5,20.8,12,23.5,9.5,30,9,32],
 [12,23.5,15,23,24,19.5,24,20,25,20,25,22,25,32],
 [25,22,37,22],
 [15,23,15.5,20,13.5,14,13.5,13.5],
 [24,19.5,24,15.5,22.5,13,22,11,23.5,9],
 [14.5,8,15.5,7.5,18.5,8.5,21.5,10.8,22.8,11],
 [13.5,13.5,15,10,14.5,8],
 [3.5,11.7,4,13.5,7,13,10,13.5,13.5,13.5,14,11,11.5,7,8.8,4.6],
 [3.6,11.7,2.7,9,1.7,6.2],
 [0.9,11,1.5,9,1.2,6],
 [-3,11,-2.7,5],
 [0,11,0.5,6],
 [-5.5,10.5,-3,11,0.9,11,3,12,4.2,15],
 [-8,4.5,-7.5,8,-8,10,-5.5,10.5],
 [-11.5,7,-10.5,8.5,-8,10],
 [-13.2,9,-11,10,-8,10,-8.5,12,-11.5,12.3,-13.7,12.5],
 [-16.7,12.5,-12,12.3],
 [-16.5,13.5,-14,13.5],
 [-12.2,14.8,-11.5,12.4],
 [14.5,8,14.5,5,16,3,18.6,3.5,22,4.5,27.4,5,30,3.5],
 [9.5,2.3,13,2.2,16,2,18,3.5],
 [11,-3.8,14,-2,14,1.5],
 [12,-5,16,-2,18,3.5],
 [12.2,-6,16,-6,17.5,-8,22,-11,24,-11],
 [27,5,31,3.7,30,0,29,-3,29.5,-6,30.5,-8.2,28.5,-8.5,28.5,-11],
 [23.5,9,27,5],
 [36.5,15,36,12,34,10.5,34.8,7,36,4.5,39.5,3.8,42,4,45,5,48,8,44,9,43,11.5],
 [38.5,18,36.5,14.5,40,14.5,43,12.5],
 [41,-1.7,41,3.9],
 [34,4.2,35,1.5,34,-1,37.7,-3.5,39.2,-4.7],
 [31,3.7,34,4.2],
 [40.5,-10.5,37.5,-11.6,34.9,-11.5],
 [30.5,-2.3,30.5,-1,29.6,-1.4],
 [43,16.5,47,17,52,19,55,20,53,16.7],
 [55,20,56,24.5],
 [36,29.5,39,32],
 [61.5,25,63,27,61,29.5,61,31],
 [68,23.7,71,24.5,70,28,74,31],
 [80,29,88,26.5,88,28],
 [88,26.5,89,26,92,25,92,22],
 [92,21,93.5,24,95,28],
 [-92,14.5,-91,17,-89,17.8,-88.8,15.8],
 [-90,13.8,-89,14.5,-88.8,15.8],
 [-87.5,13,-84,14.9],
 [-85.7,11,-83.7,11],
 [-83,8.3,-82.7,9.5],
 [-77.3,8.5,-77.9,7.2],
 [-72,12,-72.5,9,-72,7,-67.5,6,-67.5,2,-70,1,-69.5,-4.3],
 [-79,1.4,-75,0,-75.5,-1.5,-78.5,-4.5,-80.3,-3.5],
 [-75,0,-70,-4.2,-73,-7,-71,-10,-70.5,-11],
 [-60.5,8.5,-61,5.5,-60,5,-64,4,-64,2,-67,1.5],
 [-60,5,-60,1.5,-57,2,-58,4,-57.5,6],
 [-54,5.8,-54.5,2.3,-57,2],
 [-51.6,4.2,-52.5,2.3,-54.5,2.3],
 [-69.5,-11,-65.5,-10,-65,-12]
];

/* ---------- panels ---------- */
const panels = [
 {left:101, top:46,  fills:p1Fills, contours:p1Contours, name:'panel-25-jul', labelY:true,  labelX:false},
 {left:101, top:271, fills:p2Fills, contours:p2Contours, name:'panel-30-jul', labelY:true,  labelX:false},
 {left:101, top:496, fills:p3Fills, contours:p3Contours, name:'panel-4-aug',  labelY:true,  labelX:false},
 {left:101, top:721, fills:p4Fills, contours:p4Contours, name:'panel-9-aug',  labelY:true,  labelX:true},
 {left:844, top:46,  fills:r1Fills, contours:r1Contours, name:'panel-14-aug', labelY:false, labelX:false},
 {left:844, top:271, fills:r2Fills, contours:r2Contours, name:'panel-19-aug', labelY:false, labelX:false},
 {left:844, top:496, fills:r3Fills, contours:r3Contours, name:'panel-24-aug', labelY:false, labelX:false},
 {left:844, top:721, fills:r4Fills, contours:r4Contours, name:'panel-29-aug', labelY:false, labelX:true}
];
const PANEL_W = 635, PANEL_H = 140;
const contourColors = {mjo:'#000000', kelvin:'#0000ff', er:'#ff0000', low:'#a030e0'};
const NS = 'http://www.w3.org/2000/svg';

function xScale(lon, p){ return p.left + (lon + 90) / 180 * PANEL_W; }
function yScale(lat, p){ return p.top + (30 - lat) / 40 * PANEL_H; }
function colorFor(v){ let i = 0; while (i < colorBounds.length && v >= colorBounds[i]) i++; return palette[i]; }
function project(flat, p){ const out = []; for (let i = 0; i + 1 < flat.length; i += 2) out.push([xScale(flat[i], p), yScale(flat[i + 1], p)]); return out; }
function f(n){ return n.toFixed(1); }
function straightPath(pts){ return 'M' + pts.map(q => f(q[0]) + ' ' + f(q[1])).join('L'); }
function smoothPath(pts, closed){
  const n = pts.length;
  if (n < 3) return straightPath(pts);
  const at = i => closed ? pts[(i + n) % n] : pts[Math.max(0, Math.min(n - 1, i))];
  let d = 'M' + f(pts[0][0]) + ' ' + f(pts[0][1]);
  const segs = closed ? n : n - 1;
  for (let i = 0; i < segs; i++) {
    const a = at(i - 1), b = at(i), c = at(i + 1), e = at(i + 2);
    d += 'C' + f(b[0] + (c[0] - a[0]) / 6) + ' ' + f(b[1] + (c[1] - a[1]) / 6) + ' ' +
         f(c[0] - (e[0] - b[0]) / 6) + ' ' + f(c[1] - (e[1] - b[1]) / 6) + ' ' + f(c[0]) + ' ' + f(c[1]);
  }
  return d + (closed ? 'Z' : '');
}
function make(tag, parent){ const el = document.createElementNS(NS, tag); parent.appendChild(el); return el; }

const root = document.getElementById('panels');
panels.forEach(function(p, idx){
  const g = make('g', root);
  
  

  const clip = make('clipPath', g);
  clip.setAttribute('id', 'clip' + idx);
  const clipRect = make('rect', clip);
  clipRect.setAttribute('x', xScale(-90, p));
  clipRect.setAttribute('y', yScale(30, p));
  clipRect.setAttribute('width', PANEL_W);
  clipRect.setAttribute('height', PANEL_H);

  const body = make('g', g);
  body.setAttribute('clip-path', 'url(#clip' + idx + ')');

  const bg = make('rect', body);
  
  
  bg.setAttribute('x', xScale(-90, p));
  bg.setAttribute('y', yScale(30, p));
  bg.setAttribute('width', PANEL_W);
  bg.setAttribute('height', PANEL_H);
  bg.setAttribute('fill', colorFor(0));

  p.fills.forEach(function(item){
    const el = make('path', body);
    
    
    el.setAttribute('d', smoothPath(project(item[1], p), true));
    el.setAttribute('fill', colorFor(item[0]));
  });

  p.contours.forEach(function(item){
    const el = make('path', body);
    
    
    el.setAttribute('d', smoothPath(project(item[2], p), item[1] === 1));
    el.setAttribute('fill', 'none');
    el.setAttribute('stroke', contourColors[item[0]]);
    el.setAttribute('stroke-width', '2.1');
  });

  const landD = coastlines.concat(borders).map(line => straightPath(project(line, p))).join('');
  const land = make('path', body);
  
  
  land.setAttribute('d', landD);
  land.setAttribute('fill', 'none');
  land.setAttribute('stroke', '#6a6a6a');
  land.setAttribute('stroke-width', '1.8');
  land.setAttribute('stroke-linejoin', 'round');

  [[-90, 0, 10, 0], [42, 0, 90, 0], [0, 5, 0, -10]].forEach(function(seg){
    const el = make('line', body);
    
    
    el.setAttribute('x1', xScale(seg[0], p));
    el.setAttribute('y1', yScale(seg[1], p));
    el.setAttribute('x2', xScale(seg[2], p));
    el.setAttribute('y2', yScale(seg[3], p));
    el.setAttribute('stroke', '#555');
    el.setAttribute('stroke-width', '1.5');
    el.setAttribute('stroke-dasharray', '5 4');
  });

  storms.filter(s => s[0] === idx).forEach(function(s){
    const sg = make('g', g);
    
    
    sg.setAttribute('transform', 'translate(' + f(xScale(s[1], p)) + ' ' + f(yScale(s[2], p)) + ')');
    const shape = make('path', sg);
    shape.setAttribute('d', 'M-1,-12 C5,-8 7,-2 6,2 C5,6 1,8 -3,12 C-2,7 -7,3 -6,-2 C-5,-6 -2,-8 -1,-12Z');
    shape.setAttribute('fill', '#d8101a');
    shape.setAttribute('stroke', '#000');
    shape.setAttribute('stroke-width', '1.5');
    const dot = make('circle', sg);
    dot.setAttribute('r', '4.2');
    dot.setAttribute('fill', '#fff');
    const letter = make('text', sg);
    
    
    letter.setAttribute('text-anchor', 'middle');
    letter.setAttribute('y', '3');
    letter.setAttribute('font-size', '8');
    letter.setAttribute('font-weight', 'bold');
    letter.setAttribute('style', 'fill:#d8101a');
    letter.textContent = s[3];
  });

  const frame = make('rect', g);
  
  
  frame.setAttribute('x', xScale(-90, p));
  frame.setAttribute('y', yScale(30, p));
  frame.setAttribute('width', PANEL_W);
  frame.setAttribute('height', PANEL_H);
  frame.setAttribute('fill', 'none');
  frame.setAttribute('stroke', '#000');
  frame.setAttribute('stroke-width', '3');

  let tickD = '';
  for (let lon = -90; lon <= 90; lon += 10) {
    const major = lonTicks.indexOf(lon) >= 0;
    const x = f(xScale(lon, p));
    tickD += 'M' + x + ' ' + yScale(30, p) + 'v' + (major ? -6 : -2);
    tickD += 'M' + x + ' ' + yScale(-10, p) + 'v' + (major ? 6 : 3.5);
  }
  for (let lat = -10; lat <= 30; lat += 2) {
    const major = latTicks.indexOf(lat) >= 0;
    const y = f(yScale(lat, p));
    const a = xScale(-90, p), b = xScale(90, p);
    tickD += 'M' + (a - (major ? 4 : 1.5)) + ' ' + y + 'H' + (a + (major ? 6 : 3));
    tickD += 'M' + (b + (major ? 4 : 1.5)) + ' ' + y + 'H' + (b - (major ? 6 : 3));
  }
  const ticks = make('path', g);
  
  
  ticks.setAttribute('d', tickD);
  ticks.setAttribute('stroke', '#000');
  ticks.setAttribute('stroke-width', '2');
  ticks.setAttribute('fill', 'none');

  if (p.labelY) latTicks.forEach(function(lat, i){
    const t = make('text', g);
    
    
    t.setAttribute('x', p.left - 27);
    t.setAttribute('y', yScale(lat, p) + 12);
    t.setAttribute('font-size', '34');
    t.setAttribute('text-anchor', 'end');
    t.textContent = latTickLabels[i];
  });
  if (p.labelX) lonTicks.forEach(function(lon, i){
    const t = make('text', g);
    
    
    t.setAttribute('x', xScale(lon, p));
    t.setAttribute('y', yScale(-10, p) + 56);
    t.setAttribute('font-size', '35');
    t.setAttribute('text-anchor', 'middle');
    t.textContent = lonTickLabels[i];
  });
});

/* colorbar */
const cb = document.getElementById('colorbar');
const CB_LEFT = 229, CB_WIDTH = 604, CB_TOP = 978, CB_HEIGHT = 24;
function cbX(i){ return CB_LEFT + i * CB_WIDTH / palette.length; }
palette.forEach(function(col, i){
  const r = make('rect', cb);
  
  
  r.setAttribute('x', cbX(i));
  r.setAttribute('y', CB_TOP);
  r.setAttribute('width', CB_WIDTH / palette.length);
  r.setAttribute('height', CB_HEIGHT);
  r.setAttribute('fill', col);
  r.setAttribute('stroke', '#222');
  r.setAttribute('stroke-width', '1');
});
colorBarLabels.forEach(function(lab, i){
  const t = make('text', cb);
  
  
  t.setAttribute('x', cbX(i + 1));
  t.setAttribute('y', 1031);
  t.setAttribute('font-size', '31');
  t.setAttribute('text-anchor', 'middle');
  t.textContent = lab;
});
</script>
</body>
</html>
